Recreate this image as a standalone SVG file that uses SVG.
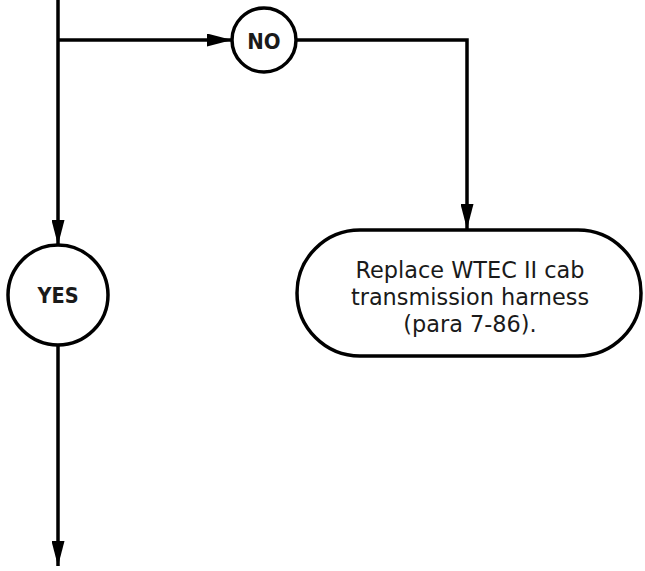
<svg xmlns="http://www.w3.org/2000/svg" width="645" height="571" viewBox="0 0 645 571">
<style>
.ln{fill:none;stroke:#000;stroke-width:3.5}
.nd{fill:#fff;stroke:#000;stroke-width:3.5}
.lb{font-family:"DejaVu Sans Condensed","DejaVu Sans",sans-serif;font-stretch:condensed;font-weight:bold;text-anchor:middle;fill:#1a1a1a}
.tx{font-family:"DejaVu Sans",sans-serif;font-size:22.4px;text-anchor:middle;fill:#1a1a1a}
</style>
<defs>
<marker id="ah" markerWidth="25" markerHeight="13" refX="25" refY="6.5" orient="auto" markerUnits="userSpaceOnUse">
<path d="M0,0 L25,6.5 L0,13 Z" fill="#000"/>
</marker>
</defs>
<g id="connectors">
<line class="ln" x1="58" y1="0" x2="58" y2="245" marker-end="url(#ah)"/>
<line class="ln" x1="58" y1="40" x2="232" y2="40" marker-end="url(#ah)"/>
<polyline class="ln" points="296,40 467,40 467,229" marker-end="url(#ah)"/>
<line class="ln" x1="58" y1="345" x2="58" y2="566" marker-end="url(#ah)"/>
</g>
<g id="no">
<circle class="nd" cx="264" cy="40" r="32"/>
<text class="lb" x="264" y="48.5" font-size="22">NO</text>
</g>
<g id="yes">
<circle class="nd" cx="58" cy="295" r="50"/>
<text class="lb" x="58" y="303" font-size="21.5">YES</text>
</g>
<g id="replace">
<rect class="nd" x="297" y="230" width="344" height="126" rx="63" ry="63"/>
<text class="tx" x="470" y="278">Replace WTEC II cab</text>
<text class="tx" x="470" y="305">transmission harness</text>
<text class="tx" x="470" y="332">(para 7-86).</text>
</g>
</svg>
